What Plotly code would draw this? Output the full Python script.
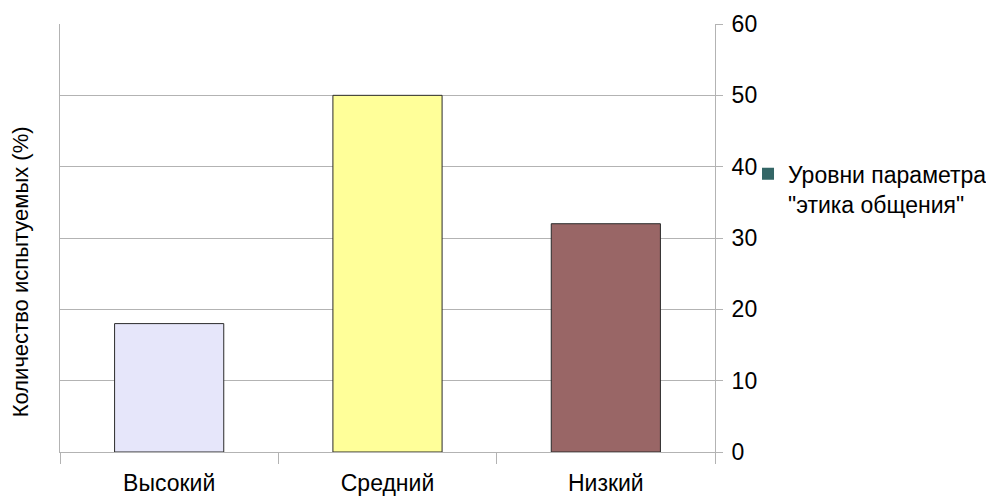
import plotly.graph_objects as go

# Уровни параметра "этика общения"
categories = ["Высокий", "Средний", "Низкий"]
values = [18, 50, 32]
bar_colors = ["#e6e6fa", "#ffff99", "#996666"]
y_ticks = [0, 10, 20, 30, 40, 50, 60]

series_name = "Уровни параметра<br>\"этика общения\""
legend_color = "#336666"
font_family = "Liberation Sans, Arial, sans-serif"
font_size = 23

fig = go.Figure()

fig.add_trace(go.Bar(
    x=categories,
    y=values,
    marker=dict(color=bar_colors, line=dict(color="#2a2a2a", width=1)),
    showlegend=False,
))

# legend entry drawn with a square marker in the series colour
fig.add_trace(go.Scatter(
    x=[None], y=[None],
    mode="markers",
    marker=dict(symbol="square", size=13, color=legend_color),
    name=series_name,
    showlegend=True,
))

fig.update_layout(
    width=986,
    height=498,
    margin=dict(l=60, r=271, t=24, b=46, autoexpand=False),
    paper_bgcolor="white",
    plot_bgcolor="white",
    bargap=0.5,
    font=dict(family=font_family, size=font_size, color="#000000"),
    showlegend=True,
    legend=dict(
        x=1.0504, y=0.70, xanchor="left", yanchor="top",
        font=dict(size=font_size), itemsizing="constant", valign="top",
        bgcolor="rgba(0,0,0,0)", tracegroupgap=0, itemwidth=30,
    ),
    xaxis=dict(
        type="category",
        automargin=False,
        showgrid=False,
        showline=True, linecolor="#b3b3b3", linewidth=1,
        ticks="outside", tickson="boundaries", ticklen=11,
        tickcolor="#b3b3b3", tickwidth=1,
        tickfont=dict(size=font_size),
        ticklabelstandoff=10,
    ),
    yaxis=dict(
        side="right",
        automargin=False,
        range=[0, 60],
        tickvals=y_ticks,
        showgrid=True, gridcolor="#b3b3b3", gridwidth=1,
        showline=True, mirror=True, linecolor="#b3b3b3", linewidth=1,
        ticks="outside", ticklen=7, tickcolor="#b3b3b3",
        tickfont=dict(size=font_size),
        ticklabelstandoff=4,
        zeroline=False,
    ),
    annotations=[dict(
        text="Количество испытуемых (%)",
        xref="paper", yref="paper",
        x=-0.061, y=0.42, xanchor="center", yanchor="middle",
        textangle=-90, showarrow=False,
        font=dict(size=22),
    )],
)

fig.write_html("out.html")
